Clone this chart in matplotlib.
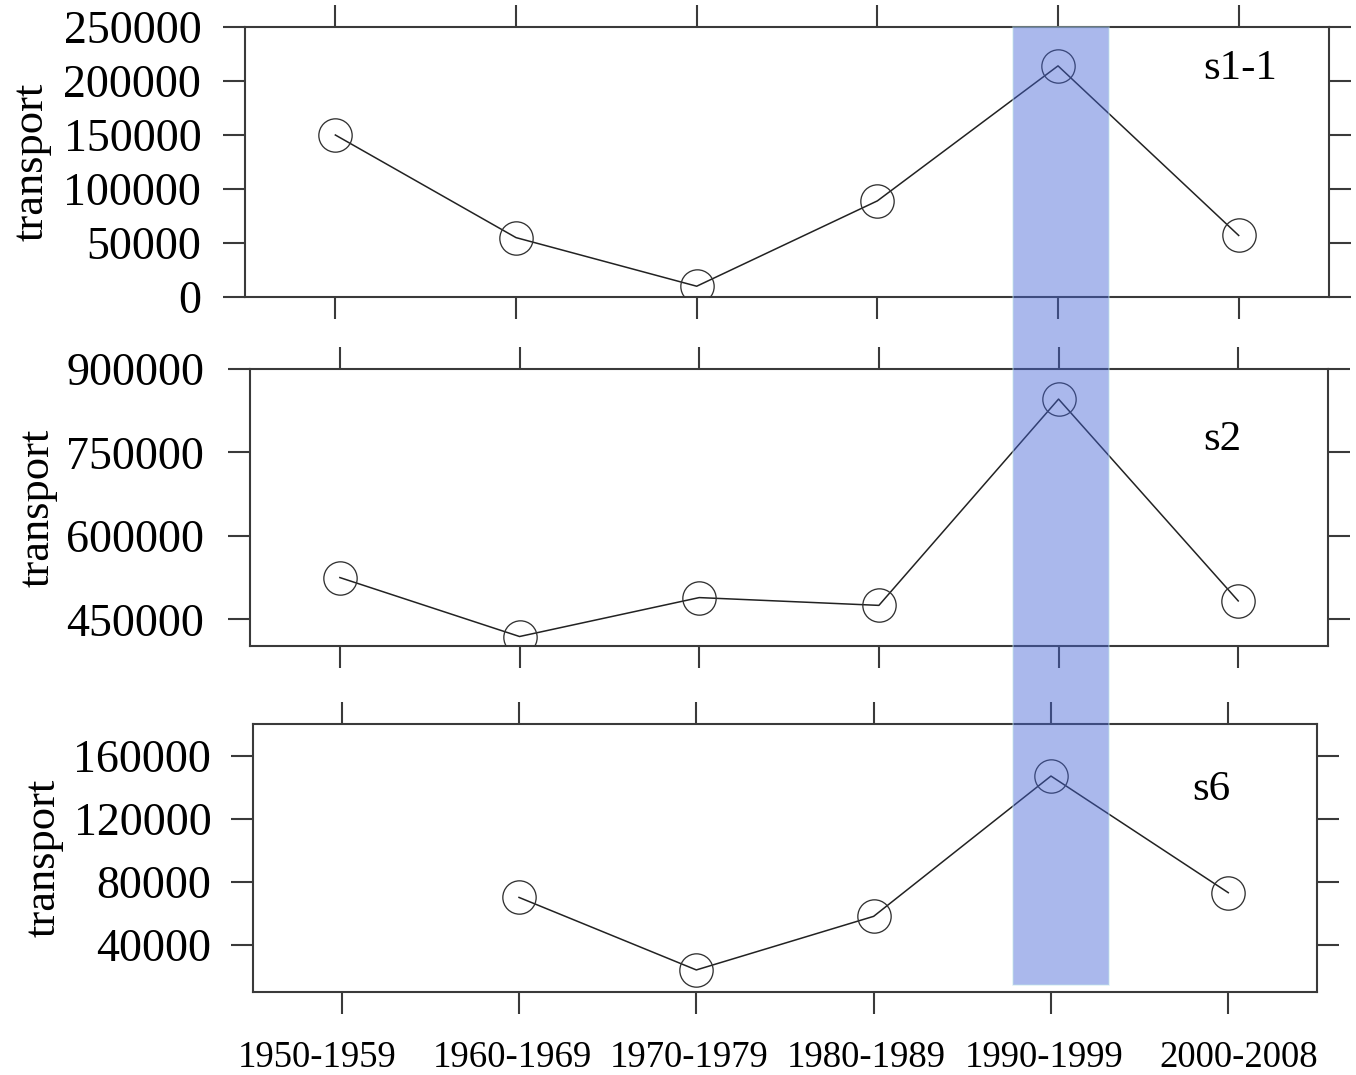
import numpy as np
import matplotlib
matplotlib.use("Agg")
import matplotlib.pyplot as plt
import matplotlib.transforms as mtransforms
from matplotlib.patches import Rectangle

plt.rcParams['font.family'] = ['Liberation Serif', 'DejaVu Serif']

# data
periods = ['1950-1959', '1960-1969', '1970-1979', '1980-1989', '1990-1999', '2000-2008']
s1_1 = [150000, 55000, 10000, 89000, 214000, 57000]
s2 = [525000, 419000, 489000, 475000, 846000, 483000]
s6 = [np.nan, 70000, 24000, 58000, 147000, 73000]

panels = [
    ('s1-1', s1_1, (0, 250000), np.arange(0, 250001, 50000)),
    ('s2', s2, (402000, 900000), np.arange(450000, 900001, 150000)),
    ('s6', s6, (10000, 180000), np.arange(40000, 160001, 40000)),
]
highlight = '1990-1999'

W, H = 1356, 1075
fig = plt.figure(figsize=(W / 100, H / 100), dpi=100)

# axes boxes (left, bottom, width, height) in figure fraction
boxes = [
    (0.1807, 0.7237, 0.7994, 0.2512),
    (0.1844, 0.3991, 0.7950, 0.2576),
    (0.1866, 0.0772, 0.7846, 0.2493),
]
label_pos = [(0.918, 0.846), (0.902, 0.745), (0.901, 0.755)]
ypads = [15.5, 17, 14]
# the period labels sit a little off their ticks in the original
label_shift = np.array([-0.14, -0.04, -0.04, -0.04, -0.04, 0.06])

spine_col = '#3a3a3a'
x = np.arange(len(periods))
axes = []
for i, (name, vals, ylim, yticks) in enumerate(panels):
    ax = fig.add_axes(boxes[i])
    ax.plot(x, vals, color='#222222', lw=1.1, zorder=2)
    ax.plot(x, vals, ls='none', marker='o', ms=24, mfc='none',
            mec='#333333', mew=0.95, zorder=3)
    ax.set_xlim(-0.5, 5.5)
    ax.set_ylim(*ylim)
    ax.set_yticks(yticks)
    ax.set_yticklabels([str(v) for v in yticks], fontsize=33)
    ax.set_xticks(x)
    ax.set_xticklabels([])
    if i == 2:
        ax.set_xticks(x + label_shift, minor=True)
        ax.set_xticklabels(periods, minor=True, fontsize=26.5)
    ax.tick_params(axis='both', which='major', direction='out', length=16,
                   width=1.5, color=spine_col, top=True, right=True)
    ax.tick_params(axis='y', pad=ypads[i])
    ax.tick_params(axis='x', which='minor', length=0, pad=35)
    for s in ax.spines.values():
        s.set_color(spine_col)
        s.set_linewidth(1.5)
    ax.set_ylabel('transport', fontsize=32, va='center')
    ax.yaxis.set_label_coords(-0.197, 0.5)
    ax.text(label_pos[i][0], label_pos[i][1], name, transform=ax.transAxes,
            fontsize=31, ha='center', va='center')
    axes.append(ax)

# highlighted period band across all panels
hi = periods.index(highlight)
trans = mtransforms.blended_transform_factory(axes[0].transData, fig.transFigure)
band = Rectangle((hi - 0.25, 0.0837), 0.53, 0.9749 - 0.0837, transform=trans,
                 facecolor='#4463d5', alpha=0.45, edgecolor='#bfe3e8',
                 linewidth=1.2, zorder=5)
fig.add_artist(band)

fig.savefig('out.png', dpi=100)
